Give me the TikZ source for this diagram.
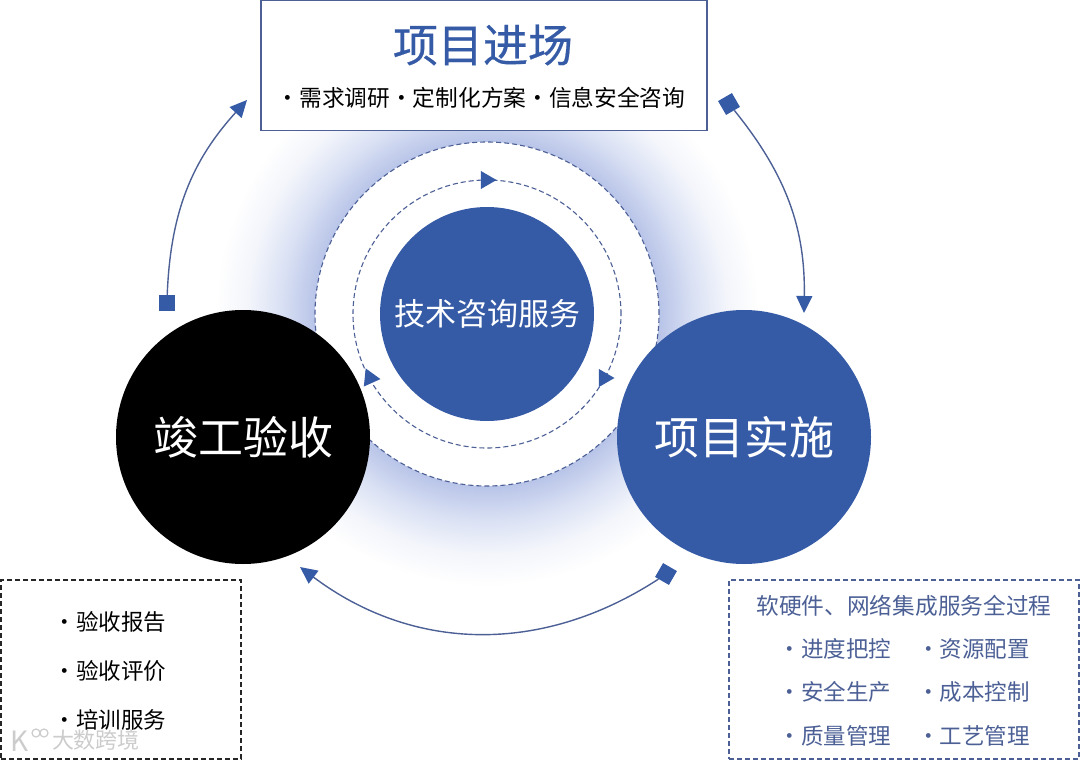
\documentclass[tikz,border=0pt]{standalone}
\usepackage{fontspec}
\setmainfont{Noto Sans CJK SC}
\newfontfamily\headfont[FakeBold=0.5]{Noto Sans CJK SC}
\usepackage{xcolor}
\usetikzlibrary{arrows.meta,positioning,shapes.geometric}
\definecolor{mainblue}{HTML}{355AA6}
\definecolor{slateblue}{HTML}{4C6096}
\newcommand{\itemdot}{\makebox[1em]{·}}
\pgfdeclareradialshading{halo}{\pgfpoint{0bp}{0bp}}{
 color(0bp)=(rgb,255:red,184;green,196;blue,232); color(15.8bp)=(rgb,255:red,184;green,196;blue,232);
 color(19bp)=(rgb,255:red,218;green,225;blue,244); color(22bp)=(rgb,255:red,243;green,245;blue,251);
 color(25bp)=(white); color(50bp)=(white)}

\begin{document}
\begin{tikzpicture}[
 x=1pt,y=-1pt,
 node distance=22pt,
 disc/.style={circle,inner sep=0pt,text=white},
 frame/.style={draw=slateblue,line width=1.3pt,inner sep=0pt},
 dashframe/.style={frame,dashed,dash pattern=on 5pt off 3pt,line width=1.3pt},
 ring/.style={circle,draw=slateblue,dashed,dash pattern=on 5pt off 3pt,line width=1.1pt,inner sep=0pt},
 marker/.style={fill=mainblue,inner sep=0pt,minimum size=16pt},
 flow/.style={draw=slateblue,line width=1.4pt,-{Triangle[length=17pt,width=16pt,color=mainblue]}},
 pointer/.style={regular polygon,regular polygon sides=3,regular polygon rotate=-90,fill=mainblue,inner sep=0pt,minimum size=21pt},
 listitem/.style={inner sep=0pt,text height=18pt,text depth=3pt,font=\fontsize{22.5}{27}\selectfont},
]
\useasboundingbox (0,0) rectangle (1080,760);

\shade[shading=halo] (487,314) circle (272);
\node[ring,fill=white,minimum size=344pt] (outerring) at (487,314) {};
\node[ring,minimum size=268pt] (innerring) at (487,314) {};

\node[pointer] (ptop) at (486,180) {};
\node[pointer,rotate=0] (pright) at (604,378) {};
\node[pointer,rotate=-6] (pleft) at (370,378) {};

\node[disc,fill=mainblue,minimum size=214pt,font=\fontsize{31}{36}\selectfont] (service) at (487,314) {技术咨询服务};
\node[disc,fill=black,minimum size=254pt,font=\fontsize{45}{52}\selectfont] (accept) at (243,437) {竣工验收};
\node[disc,fill=mainblue,minimum size=254pt,font=\fontsize{45}{52}\selectfont] (build) at (744,437) {项目实施};

\node[frame,fill=white,minimum width=446pt,minimum height=130pt] (entrybox) at (484,65.5) {};
\node[text=mainblue,font=\headfont\fontsize{45}{52}\selectfont] (entry) at (483,45) {项目进场};
\node[font=\fontsize{22.7}{27}\selectfont,inner sep=0pt] (needs) at (481,98) {\itemdot 需求调研\itemdot 定制化方案\itemdot 信息安全咨询};

\node[dashframe,draw=black!85,minimum width=240pt,minimum height=179pt] (acceptbox) at (121,669.5) {};
\node[listitem,anchor=west] (report) at (53.5,623) {\itemdot 验收报告};
\node[listitem,below=27.5pt of report.south west,anchor=north west] (review) {\itemdot 验收评价};
\node[listitem,below=27.5pt of review.south west,anchor=north west] (training) {\itemdot 培训服务};

\node[dashframe,minimum width=350pt,minimum height=179pt] (buildbox) at (904,669.5) {};
\node[text=slateblue,font=\fontsize{22.7}{29}\selectfont] (process) at (904,606) {软硬件、网络集成服务全过程};
\begin{scope}[every node/.append style={listitem,text=slateblue}]
\node[anchor=west] (progress) at (778.5,650) {\itemdot 进度把控};
\node[right=25.5pt of progress] (resource) {\itemdot 资源配置};
\node[below=of progress] (safety) {\itemdot 安全生产};
\node[right=25.5pt of safety] (cost) {\itemdot 成本控制};
\node[below=of safety] (quality) {\itemdot 质量管理};
\node[right=25.5pt of quality] (craft) {\itemdot 工艺管理};
\end{scope}

\node[marker,rotate=30] (mright) at (729,104) {};
\node[marker,rotate=-30] (mbottom) at (666,574) {};
\node[marker] (mleft) at (167,303) {};
\coordinate (tright) at (804,313);
\coordinate (tbottom) at (300,567);
\coordinate (tleft) at (247,100);
\draw[flow] (mright) to[bend left=20] (tright);
\draw[flow] (mbottom) to[bend left=35] (tbottom);
\draw[flow] (mleft) to[bend left=20] (tleft);

\node[text=gray!40,font=\fontsize{22}{26}\selectfont,inner sep=0pt] (mark) at (96,740) {大数跨境};
\node[text=gray!40,font=\fontsize{28}{30}\selectfont,inner sep=0pt] (logo) at (20,741) {K};
\draw[gray!40,line width=1.2pt] (36,733) circle (4) (44,733) circle (4);
\end{tikzpicture}
\end{document}
